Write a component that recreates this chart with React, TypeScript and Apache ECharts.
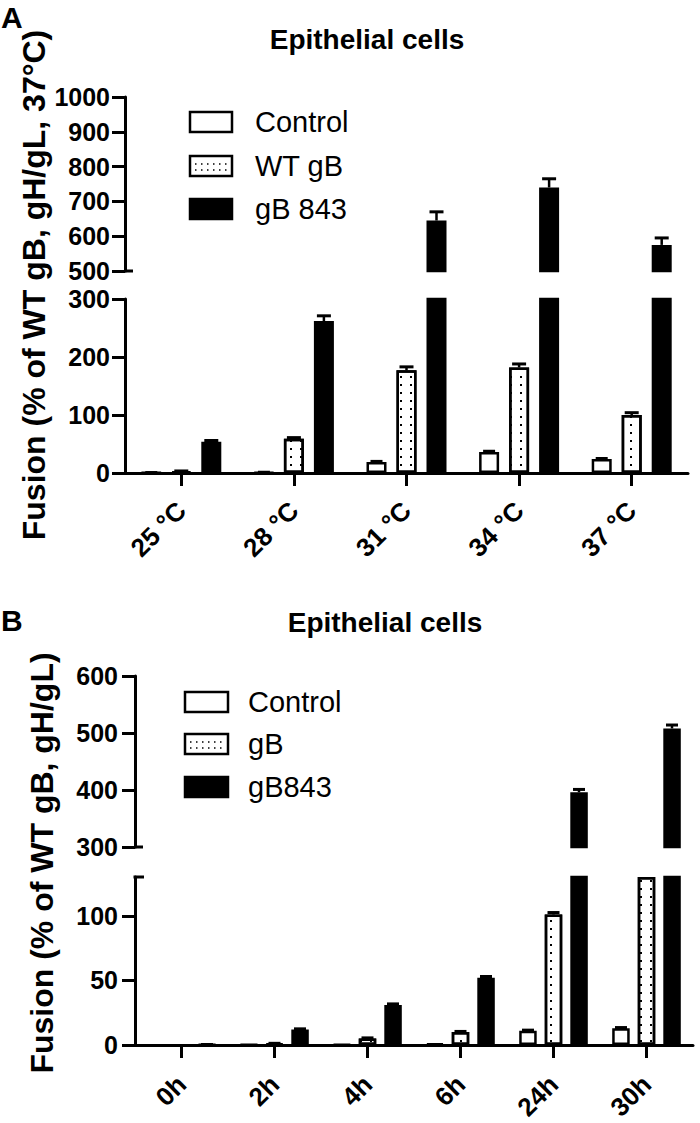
import React, { useEffect, useRef } from 'react';
import * as echarts from 'echarts';

// ---------- Panel A data ----------
const catsA = ['25 °C', '28 °C', '31 °C', '34 °C', '37 °C'];
const ctrlA = [0.5, 1, 19, 36, 24];
const ctrlAErr = [0.3, 0.3, 1, 1.5, 1];
const wtA = [3, 59, 177, 182, 100];
const wtAErr = [0.5, 2, 6, 6, 4];
const mutA = [54, 262, 645, 740, 575];
const mutAErr = [2, 9, 25, 25, 20];
const legendA = ['Control', 'WT gB', 'gB 843'];

// ---------- Panel B data ----------
const catsB = ['0h', '2h', '4h', '6h', '24h', '30h'];
const ctrlB: (number | null)[] = [null, 0.3, 0.5, 1, 11, 13];
const ctrlBErr = [0, 0, 0, 0, 0.5, 0.5];
const gbB: (number | null)[] = [null, 1, 5, 10, 101, 130];
const gbBErr = [0, 0.3, 0.5, 0.5, 1.5, 0];
const mutB = [0.3, 12, 31, 52, 396, 508];
const mutBErr = [0.1, 0.5, 0.8, 1, 5, 6];
const legendB = ['Control', 'gB', 'gB843'];

const FONT = "'Liberation Sans', Arial, Helvetica, sans-serif";

// layout
const GA_TOP = { left: 125, right: 12, top: 97, height: 174 };
const GA_BOT = { left: 125, right: 12, top: 299, height: 174 };
const GB_TOP = { left: 135, right: 7, top: 676, height: 171 };
const GB_BOT = { left: 135, right: 7, top: 877, height: 172 };

const BW_A = 20;
const GAP_A = 10;
const BW_B = 17.5;
const GAP_B = 8;

const DOTS = {
  symbol: 'rect',
  symbolSize: 1,
  color: '#000',
  dashArrayX: [2, 8],
  dashArrayY: [2, 5.5],
  rotation: 0,
};

const styleCtrl = { color: '#fff', borderColor: '#000', borderWidth: 2.5 };
const styleWt = { color: '#fff', borderColor: '#000', borderWidth: 2.5, decal: DOTS };
const styleMut = { color: '#000', borderColor: '#000', borderWidth: 2.5 };

function errData(vals: (number | null)[], errs: number[], lo: number, hi: number) {
  const out: number[][] = [];
  vals.forEach((v, i) => {
    if (v == null) return;
    if (errs[i] > 0 && v >= lo && v + errs[i] <= hi) out.push([i, v, errs[i]]);
  });
  return out;
}

function errRender(off: number, capW: number) {
  return (params: any, api: any) => {
    const i = api.value(0);
    const v = api.value(1);
    const e = api.value(2);
    const b = api.coord([i, v]);
    const t = api.coord([i, v + e]);
    const x = b[0] + off;
    return {
      type: 'group',
      children: [
        { type: 'line', shape: { x1: x, y1: b[1], x2: x, y2: t[1] }, style: { stroke: '#000', lineWidth: 2.5 } },
        { type: 'line', shape: { x1: x - capW / 2, y1: t[1], x2: x + capW / 2, y2: t[1] }, style: { stroke: '#000', lineWidth: 3 } },
      ],
    };
  };
}

function bar(name: string, data: (number | null)[], itemStyle: any, xi: number, bw: number, gapPct: string) {
  return {
    type: 'bar',
    name,
    data: data.map((v) => (v == null ? '-' : v)),
    xAxisIndex: xi,
    yAxisIndex: xi,
    barWidth: bw,
    barGap: gapPct,
    itemStyle,
    clip: true,
    silent: true,
  };
}

function errSeries(data: number[][], xi: number, off: number, capW: number) {
  return {
    type: 'custom',
    xAxisIndex: xi,
    yAxisIndex: xi,
    data,
    renderItem: errRender(off, capW),
    z: 10,
    clip: false,
    silent: true,
  };
}

const yAxisBase = (gi: number, min: number, max: number, interval: number, margin: number, custom?: number[]) => ({
  type: 'value',
  gridIndex: gi,
  min,
  max,
  interval,
  axisLine: { show: true, lineStyle: { color: '#000', width: 3 } },
  axisTick: { show: true, length: 13, lineStyle: { color: '#000', width: 3 }, ...(custom ? { customValues: custom } : {}) },
  axisLabel: {
    fontSize: 25,
    fontWeight: 'bold',
    color: '#000',
    margin,
    fontFamily: FONT,
    formatter: (v: number) => String(v),
    ...(custom ? { customValues: custom } : {}),
  },
  splitLine: { show: false },
});

const xAxisHidden = (gi: number, cats: string[]) => ({ type: 'category', gridIndex: gi, data: cats, show: false });
const xAxisShown = (gi: number, cats: string[], margin: number) => ({
  type: 'category',
  gridIndex: gi,
  data: cats,
  axisLine: { show: true, lineStyle: { color: '#000', width: 3 } },
  axisTick: { show: true, alignWithLabel: true, length: 13, lineStyle: { color: '#000', width: 3 } },
  axisLabel: { rotate: 45, interval: 0, margin, fontSize: 26, fontWeight: 'bold', color: '#000', fontFamily: FONT },
});

function legendGraphics(names: string[], x: number, w: number, centers: number[], textX: number) {
  const els: any[] = [];
  const styles = ['ctrl', 'wt', 'mut'];
  names.forEach((n, k) => {
    const cy = centers[k];
    const s = styles[k];
    els.push({
      type: 'rect',
      shape: { x, y: cy - 10, width: w, height: 20 },
      style: { fill: s === 'mut' ? '#000' : '#fff', stroke: '#000', lineWidth: 2.5 },
    });
    if (s === 'wt') {
      els.push({ type: 'line', shape: { x1: x + 5, y1: cy - 2, x2: x + w - 4, y2: cy - 2 }, style: { stroke: '#000', lineWidth: 1.5, lineDash: [1.5, 4.5] } });
      els.push({ type: 'line', shape: { x1: x + 5, y1: cy + 4, x2: x + w - 4, y2: cy + 4 }, style: { stroke: '#000', lineWidth: 1.5, lineDash: [1.5, 4.5] } });
    }
    els.push({
      type: 'text',
      x: textX,
      y: cy,
      style: { text: n, fontSize: 29, fontFamily: FONT, fill: '#000', align: 'left', verticalAlign: 'middle', textAlign: 'left', textVerticalAlign: 'middle' },
    });
  });
  return els;
}

function textEl(text: string, x: number, y: number, size: number, bold: boolean, align: string, rotation = 0) {
  return {
    type: 'text',
    x,
    y,
    rotation,
    style: {
      text,
      fontSize: size,
      fontWeight: bold ? 'bold' : 'normal',
      fontFamily: FONT,
      fill: '#000',
      align,
      verticalAlign: 'middle',
      textAlign: align,
      textVerticalAlign: 'middle',
    },
  };
}

export default function App() {
  const ref = useRef<HTMLDivElement>(null);
  useEffect(() => {
    if (!ref.current) return;
    const chart = echarts.init(ref.current, undefined, { renderer: 'svg' });
    const gapA = Math.round((GAP_A / BW_A) * 100) + '%';
    const gapB = Math.round((GAP_B / BW_B) * 100) + '%';
    const offA = BW_A + GAP_A;
    const offB = BW_B + GAP_B;

    const option: any = {
      animation: false,
      backgroundColor: '#fff',
      grid: [
        { ...GA_TOP, containLabel: false },
        { ...GA_BOT, containLabel: false },
        { ...GB_TOP, containLabel: false },
        { ...GB_BOT, containLabel: false },
      ],
      xAxis: [xAxisHidden(0, catsA), xAxisShown(1, catsA, 33), xAxisHidden(2, catsB), xAxisShown(3, catsB, 35)],
      yAxis: [
        yAxisBase(0, 500, 1000, 100, 15),
        yAxisBase(1, 0, 300, 100, 15),
        yAxisBase(2, 300, 600, 100, 17),
        yAxisBase(3, 0, 130, 50, 17, [0, 50, 100]),
      ],
      series: [
        // Panel A, upper segment
        bar(legendA[0], ctrlA, styleCtrl, 0, BW_A, gapA),
        bar(legendA[1], wtA, styleWt, 0, BW_A, gapA),
        bar(legendA[2], mutA, styleMut, 0, BW_A, gapA),
        // Panel A, lower segment
        bar(legendA[0], ctrlA, styleCtrl, 1, BW_A, gapA),
        bar(legendA[1], wtA, styleWt, 1, BW_A, gapA),
        bar(legendA[2], mutA, styleMut, 1, BW_A, gapA),
        // Panel B, upper segment
        bar(legendB[0], ctrlB, styleCtrl, 2, BW_B, gapB),
        bar(legendB[1], gbB, styleWt, 2, BW_B, gapB),
        bar(legendB[2], mutB, styleMut, 2, BW_B, gapB),
        // Panel B, lower segment
        bar(legendB[0], ctrlB, styleCtrl, 3, BW_B, gapB),
        bar(legendB[1], gbB, styleWt, 3, BW_B, gapB),
        bar(legendB[2], mutB, styleMut, 3, BW_B, gapB),
        // error bars
        errSeries(errData(wtA, wtAErr, 500, 1000), 0, 0, 14),
        errSeries(errData(mutA, mutAErr, 500, 1000), 0, offA, 14),
        errSeries(errData(ctrlA, ctrlAErr, 0, 300), 1, -offA, 12),
        errSeries(errData(wtA, wtAErr, 0, 300), 1, 0, 14),
        errSeries(errData(mutA, mutAErr, 0, 300), 1, offA, 14),
        errSeries(errData(mutB, mutBErr, 300, 600), 2, offB, 12),
        errSeries(errData(ctrlB, ctrlBErr, 0, 130), 3, -offB, 12),
        errSeries(errData(gbB, gbBErr, 0, 130), 3, 0, 12),
        errSeries(errData(mutB, mutBErr, 0, 130), 3, offB, 12),
      ],
      graphic: [
        // panel letters
        textEl('A', 1, 17, 30, true, 'left'),
        textEl('B', 1, 620, 30, true, 'left'),
        // titles
        textEl('Epithelial cells', 367, 39, 28, true, 'center'),
        textEl('Epithelial cells', 385, 622, 28, true, 'center'),
        // y-axis titles
        textEl('Fusion (% of WT gB, gH/gL, 37°C)', 34, 285, 32, true, 'center', Math.PI / 2),
        textEl('Fusion (% of WT gB, gH/gL)', 42, 863, 32, true, 'center', Math.PI / 2),
        // broken-axis end marks
        { type: 'line', shape: { x1: GA_TOP.left, y1: GA_TOP.top + GA_TOP.height, x2: GA_TOP.left + 8, y2: GA_TOP.top + GA_TOP.height }, style: { stroke: '#000', lineWidth: 3 } },
        { type: 'line', shape: { x1: GB_TOP.left, y1: GB_TOP.top + GB_TOP.height, x2: GB_TOP.left + 8, y2: GB_TOP.top + GB_TOP.height }, style: { stroke: '#000', lineWidth: 3 } },
        { type: 'line', shape: { x1: GB_BOT.left - 1.5, y1: GB_BOT.top, x2: GB_BOT.left + 9, y2: GB_BOT.top }, style: { stroke: '#000', lineWidth: 3 } },
        // legends
        ...legendGraphics(legendA, 190, 42, [122, 166, 209], 255),
        ...legendGraphics(legendB, 185, 43, [702, 744, 787], 248),
      ],
    };
    chart.setOption(option);
    return () => chart.dispose();
  }, []);
  return <div ref={ref} style={{ position: 'absolute', left: 0, top: 0, width: 700, height: 1123 }} />;
}
